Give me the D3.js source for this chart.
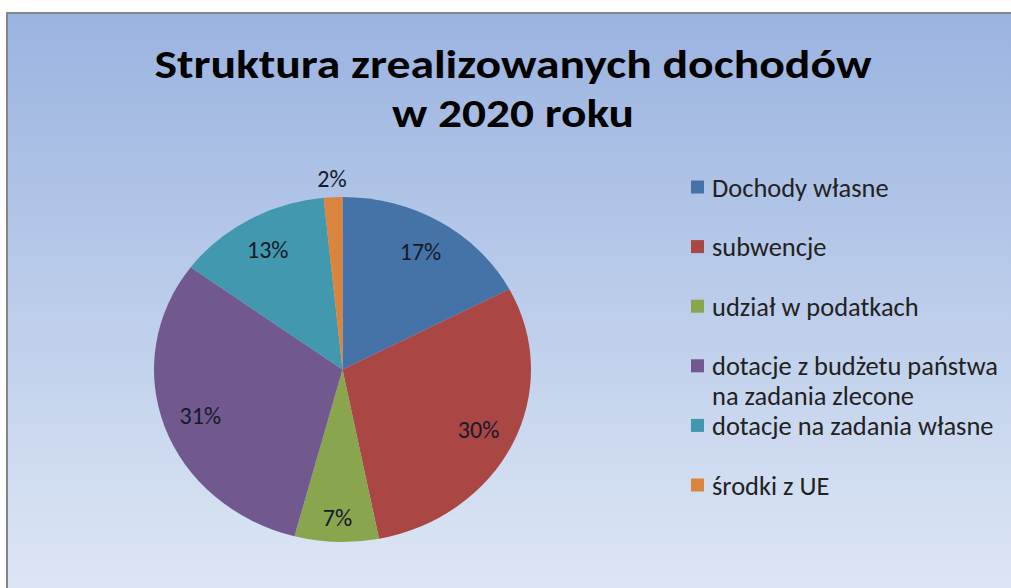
<!DOCTYPE html>
<html>
<head>
<meta charset="utf-8">
<script src="https://cdn.jsdelivr.net/npm/d3@7"></script>
<style>
  html, body { margin: 0; padding: 0; background: #ffffff; }
  svg { display: block; }
</style>
</head>
<body>
<div id="chart"></div>
<script>
//Datos
const categories = ['Dochody własne', 'subwencje', 'udział w podatkach', 'dotacje z budżetu państwa\nna zadania zlecone', 'dotacje na zadania własne', 'środki z UE'];
const values = [17.3, 29.6, 7.2, 31.0, 13.3, 1.6];
const colors = ['#4572A7', '#AA4643', '#89A54E', '#71588F', '#4198AF', '#DB843D'];
const titleLines = ['Struktura zrealizowanych dochodów', 'w 2020 roku'];

const W = 1011, H = 588;

let svg = d3.select('#chart')
    .append('svg')
    .attr('width', W)
    .attr('height', H);

//Fondo con degradado
let grad = svg.append('defs')
    .append('linearGradient')
    .attr('id', 'bg')
    .attr('x1', 0).attr('y1', 0).attr('x2', 0).attr('y2', 1);
grad.append('stop').attr('offset', '0%').attr('stop-color', '#9ab3e0');
grad.append('stop').attr('offset', '100%').attr('stop-color', '#e1e9f6');

svg.append('rect')
    .attr('x', 7).attr('y', 13)
    .attr('width', W + 20).attr('height', H + 20)
    .attr('fill', 'url(#bg)')
    .attr('stroke', '#878787')
    .attr('stroke-width', 2);

//Título
let titleWidths = [717, 242];

let title = svg.append('g')
    .attr('text-anchor', 'middle')
    .style('font-family', 'Calibri, Carlito, Lato, sans-serif')
    .style('font-weight', 'bold')
    .style('font-size', '40px')
    .attr('fill', '#000');

title.selectAll('text')
    .data(titleLines)
    .enter()
    .append('text')
    .attr('x', 513)
    .attr('y', function(d, i) { return 78 + i * 49; })
    .attr('textLength', function(d, i) { return titleWidths[i]; })
    .attr('lengthAdjust', 'spacingAndGlyphs')
    .text(function(d) { return d; });

//Tarta (elipse)
let cx = 342.5, cy = 369.5, rx = 188.5, ry = 172.5;
let sx = rx / ry;

let pie = d3.pie().sort(null).value(function(d) { return d; });
let arcs = pie(values);

let arc = d3.arc().innerRadius(0).outerRadius(ry);

let pieG = svg.append('g')
    .attr('transform', 'translate(' + cx + ',' + cy + ') scale(' + sx + ',1)');

pieG.selectAll('path')
    .data(arcs)
    .enter()
    .append('path')
    .attr('d', arc)
    .attr('fill', function(d, i) { return colors[i]; });

//Etiquetas de porcentaje
let total = d3.sum(values);
function labelRadius(v) {
    let p = v / total;
    if (p < 0.03) return 1.11;
    if (p < 0.10) return 0.86;
    return 0.8;
}

function labelPos(d) {
    let r = ry * labelRadius(d.data);
    let c = d3.arc().innerRadius(r).outerRadius(r).centroid(d);
    return [cx + c[0] * sx, cy + c[1]];
}

svg.append('g')
    .selectAll('text')
    .data(arcs)
    .enter()
    .append('text')
    .attr('x', function(d) { return labelPos(d)[0]; })
    .attr('y', function(d) { return labelPos(d)[1]; })
    .attr('dy', '0.36em')
    .attr('text-anchor', 'middle')
    .style('font-family', 'Calibri, Carlito, Lato, sans-serif')
    .style('font-size', '24px')
    .attr('fill', '#161a2a')
    .text(function(d) { return Math.round(d.data / total * 100) + '%'; });

//Leyenda
let legendLines = [];
let lineIdx = 0;
categories.forEach(function(c, i) {
    let parts = c.split('\n');
    parts.forEach(function(p, j) {
        legendLines.push({ text: p, cat: i, first: j === 0, idx: lineIdx });
        lineIdx++;
    });
    lineIdx += (i === 3 ? 0 : 1);
});

let yLegend = d3.scaleLinear().domain([0, 1]).range([187, 216.8]);

let legend = svg.append('g');

legend.selectAll('rect')
    .data(legendLines.filter(function(d) { return d.first; }))
    .enter()
    .append('rect')
    .attr('x', 691)
    .attr('y', function(d) { return yLegend(d.idx) - 6.5; })
    .attr('width', 13)
    .attr('height', 13)
    .attr('fill', function(d) { return colors[d.cat]; });

let legendText = legend.selectAll('text')
    .data(legendLines)
    .enter()
    .append('text')
    .attr('x', 712)
    .attr('y', function(d) { return yLegend(d.idx); })
    .attr('dy', '0.36em')
    .style('font-family', 'Calibri, Carlito, Lato, sans-serif')
    .style('font-size', '21px')
    .attr('fill', '#222222')
    .text(function(d) { return d.text; });

//Ajuste del ancho de la leyenda
let longest = d3.max(legendText.nodes(), function(n) { return n.getComputedTextLength(); });
legendText.style('font-size', (21 * 286 / longest) + 'px');
</script>
</body>
</html>
